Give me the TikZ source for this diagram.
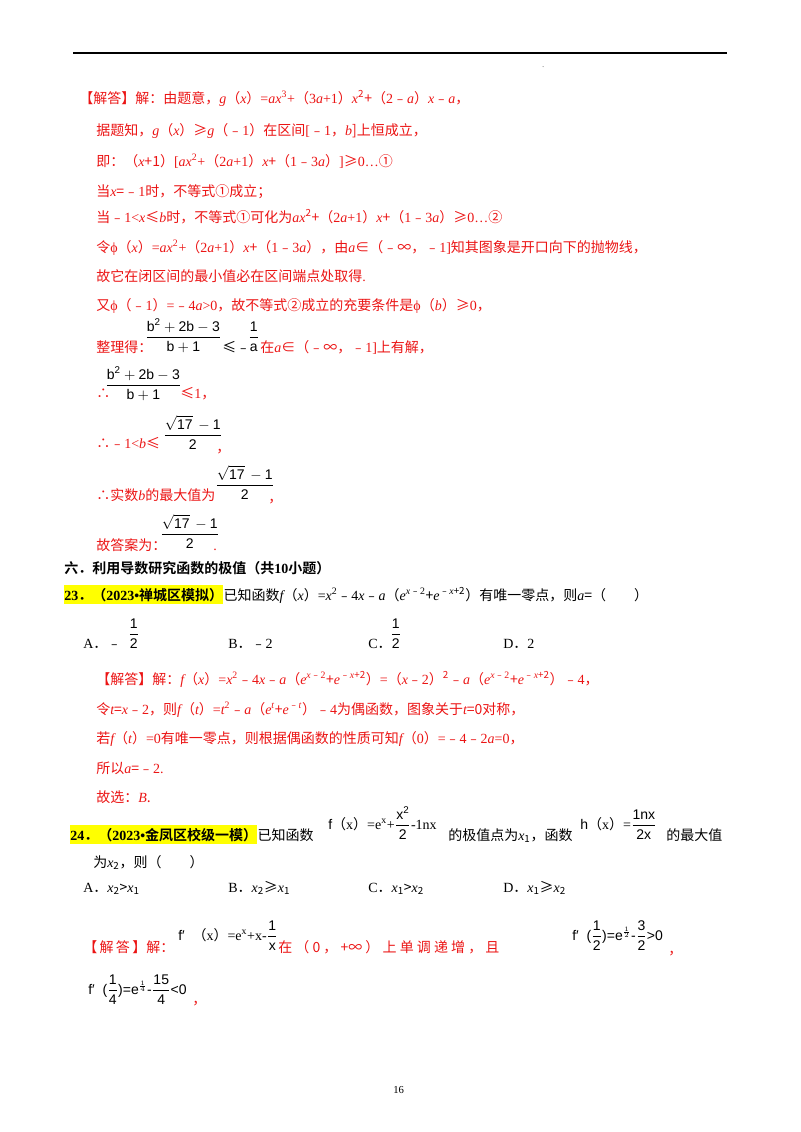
\documentclass[tikz,border=0pt]{standalone}
\usepackage{amsmath}
\usepackage{fontspec}
\setmainfont{Liberation Serif}
\setsansfont{Liberation Sans}
\newfontfamily\cjkfam{Noto Sans CJK SC}[BoldFont={Noto Sans CJK SC Bold},ItalicFont={Noto Sans CJK SC},BoldItalicFont={Noto Sans CJK SC Bold}]
\XeTeXinterchartokenstate=1
\newXeTeXintercharclass\CJKcls
\newcount\cc
\def\setcls#1#2{\cc=#1\relax\loop\XeTeXcharclass\cc=\CJKcls\ifnum\cc<#2\advance\cc by 1\repeat}
\setcls{"3000}{"9FFF}
\setcls{"FF00}{"FFEF}
\setcls{"FE30}{"FE6F}
\setcls{"2460}{"24FF}
\setcls{"2200}{"22FF}
\XeTeXinterchartoks 0 \CJKcls = {\cjkfam}
\XeTeXinterchartoks 4095 \CJKcls = {\cjkfam}
\XeTeXinterchartoks \CJKcls 0 = {\rmfamily}
\definecolor{ansred}{RGB}{235,20,20}
\definecolor{hl}{RGB}{255,255,0}
\newcommand{\su}[1]{\textsuperscript{#1}}
\newcommand{\vi}[1]{{\rmfamily\itshape #1}}
\begin{document}
\begin{tikzpicture}[x=0.75pt,y=-0.75pt,
  txt/.style={anchor=base west,inner sep=0pt,font=\fontsize{10.5}{12}\selectfont},
  red/.style={txt,text=ansred},
  blk/.style={txt,text=black},
  img/.style={anchor=base west,inner sep=0pt,font=\fontsize{10.5}{12}\sffamily},
  hlbox/.style={txt,fill=hl,inner ysep=2pt,inner xsep=0pt}]
\useasboundingbox (0,0) rectangle (800,1132);
\draw[line width=0.8pt] (73,53) coordinate (r1) -- (727,53) coordinate (r2);
\node[blk,font=\tiny] (dot) at (542,67) {.};
\node[red] (l1) at (79,103) {【解答】解：由题意，\vi{g}（\vi{x}）=\vi{ax}\su{3}+（3\vi{a}+1）\vi{x}\su{2}+（2﹣\vi{a}）\vi{x}﹣\vi{a}，};
\node[red] (l2) at (96,135) {据题知，\vi{g}（\vi{x}）≥\vi{g}（﹣1）在区间[﹣1，\vi{b}]上恒成立，};
\node[red] (l3) at (96,166) {即：（\vi{x}+1）[\vi{ax}\su{2}+（2\vi{a}+1）\vi{x}+（1﹣3\vi{a}）]≥0…①};
\node[red] (l4) at (96,196) {当\vi{x}=﹣1时，不等式①成立；};
\node[red] (l5) at (96,222) {当﹣1<\vi{x}≤\vi{b}时，不等式①可化为\vi{ax}\su{2}+（2\vi{a}+1）\vi{x}+（1﹣3\vi{a}）≥0…②};
\node[red] (l6) at (96,252) {令ϕ（\vi{x}）=\vi{ax}\su{2}+（2\vi{a}+1）\vi{x}+（1﹣3\vi{a}），由\vi{a}∈（﹣∞，﹣1]知其图象是开口向下的抛物线，};
\node[red] (l7) at (96,281) {故它在闭区间的最小值必在区间端点处取得.};
\node[red] (l8) at (96,310) {又ϕ（﹣1）=﹣4\vi{a}>0，故不等式②成立的充要条件是ϕ（\vi{b}）≥0，};
\node[red] (l9) at (96,352) {整理得：};
\node[img] (f1) at (145,341) {$\dfrac{\mathsf{b^2+2b-3}}{\mathsf{b+1}}$};
\node[img] (f1b) at (222,352) {≤﹣};
\node[img] (f1c) at (248,341) {$\dfrac{\mathsf{1}}{\mathsf{a}}$};
\node[red] (l9b) at (260,352) {在\vi{a}∈（﹣∞，﹣1]上有解，};
\node[red] (l10) at (96,398) {∴};
\node[img] (f2) at (105,389) {$\dfrac{\mathsf{b^2+2b-3}}{\mathsf{b+1}}$};
\node[red] (l10b) at (180,398) {≤1，};
\node[red] (l11) at (96,448) {∴﹣1<\vi{b}≤};
\node[img] (f3) at (163,439) {$\dfrac{\mathsf{\sqrt{17}\,-1}}{\mathsf{2}}$};
\node[red] (l11b) at (216,452) {，};
\node[red] (l12) at (96,500) {∴实数\vi{b}的最大值为};
\node[img] (f4) at (215,489) {$\dfrac{\mathsf{\sqrt{17}\,-1}}{\mathsf{2}}$};
\node[red] (l12b) at (268,502) {，};
\node[red] (l13) at (96,550) {故答案为：};
\node[img] (f5) at (160,538) {$\dfrac{\mathsf{\sqrt{17}\,-1}}{\mathsf{2}}$};
\node[red] (l13b) at (213,550) {.};
\node[blk,font=\fontsize{10.5}{12}\bfseries] (h6) at (64,573) {六．利用导数研究函数的极值（共10小题）};
\node[hlbox] (q23) at (64,600) {\textbf{23．（2023•禅城区模拟）}};
\node[blk,anchor=base west] (q23b) at (q23.base east) {已知函数\vi{f}（\vi{x}）=\vi{x}\su{2}﹣4\vi{x}﹣\vi{a}（\vi{e}\su{\vi{x}﹣2}+\vi{e}\su{﹣\vi{x}+2}）有唯一零点，则\vi{a}=（　　）};
\node[blk] (oA) at (83,648) {A．﹣};
\node[img] (oAf) at (128,638) {$\dfrac{\mathsf{1}}{\mathsf{2}}$};
\node[blk] (oB) at (228,648) {B．﹣2};
\node[blk] (oC) at (368,648) {C．};
\node[img] (oCf) at (390,638) {$\dfrac{\mathsf{1}}{\mathsf{2}}$};
\node[blk] (oD) at (503,648) {D．2};
\node[red] (s1) at (96,684) {【解答】解：\vi{f}（\vi{x}）=\vi{x}\su{2}﹣4\vi{x}﹣\vi{a}（\vi{e}\su{\vi{x}﹣2}+\vi{e}\su{﹣\vi{x}+2}）=（\vi{x}﹣2）\su{2}﹣\vi{a}（\vi{e}\su{\vi{x}﹣2}+\vi{e}\su{﹣\vi{x}+2}）﹣4，};
\node[red] (s2) at (96,714) {令\vi{t}=\vi{x}﹣2，则\vi{f}（\vi{t}）=\vi{t}\su{2}﹣\vi{a}（\vi{e}\su{\vi{t}}+\vi{e}\su{﹣\vi{t}}）﹣4为偶函数，图象关于\vi{t}=0对称，};
\node[red] (s3) at (96,743) {若\vi{f}（\vi{t}）=0有唯一零点，则根据偶函数的性质可知\vi{f}（0）=﹣4﹣2\vi{a}=0，};
\node[red] (s4) at (96,773) {所以\vi{a}=﹣2.};
\node[red] (s5) at (96,802) {故选：\vi{B}.};
\node[hlbox] (q24) at (70,840) {\textbf{24．（2023•金凤区校级一模）}};
\node[blk,anchor=base west] (q24b) at (q24.base east) {已知函数};
\node[img] (g1) at (328,829) {f（x）=e\su{x}+$\dfrac{\mathsf{x^2}}{\mathsf{2}}$-1nx};
\node[blk] (q24c) at (448,840) {的极值点为\vi{x}\textsubscript{1}，函数};
\node[img] (g2) at (580,829) {h（x）=$\dfrac{\mathsf{1nx}}{\mathsf{2x}}$};
\node[blk] (q24d) at (666,840) {的最大值};
\node[blk] (q24e) at (93,867) {为\vi{x}\textsubscript{2}，则（　　）};
\node[blk] (pA) at (83,892) {A．\vi{x}\textsubscript{2}>\vi{x}\textsubscript{1}};
\node[blk] (pB) at (228,892) {B．\vi{x}\textsubscript{2}≥\vi{x}\textsubscript{1}};
\node[blk] (pC) at (368,892) {C．\vi{x}\textsubscript{1}>\vi{x}\textsubscript{2}};
\node[blk] (pD) at (503,892) {D．\vi{x}\textsubscript{1}≥\vi{x}\textsubscript{2}};
\node[red] (t1) at (83,952) {【\,解\,答\,】解：};
\node[img] (k1) at (178,940) {f′\ \ （x）=e\su{x}+x-$\dfrac{\mathsf{1}}{\mathsf{x}}$};
\node[red] (t2) at (278,952) {在\ （\ 0\ ，\ +∞\ ）\ 上\ 单\ 调\ 递\ 增\ ，\ 且};
\node[img] (k2) at (572,940) {f′\ \ ($\dfrac{\mathsf{1}}{\mathsf{2}}$)=e\su{$\frac{1}{2}$}-$\dfrac{\mathsf{3}}{\mathsf{2}}$>0};
\node[red] (t3) at (668,954) {，};
\node[img] (k3) at (88,994) {f′\ \ ($\dfrac{\mathsf{1}}{\mathsf{4}}$)=e\su{$\frac{1}{4}$}-$\dfrac{\mathsf{15}}{\mathsf{4}}$<0};
\node[red] (t4) at (192,1004) {，};
\node[blk,font=\fontsize{8}{10}\selectfont] (pg) at (393,1093) {16};
\end{tikzpicture}
\end{document}
